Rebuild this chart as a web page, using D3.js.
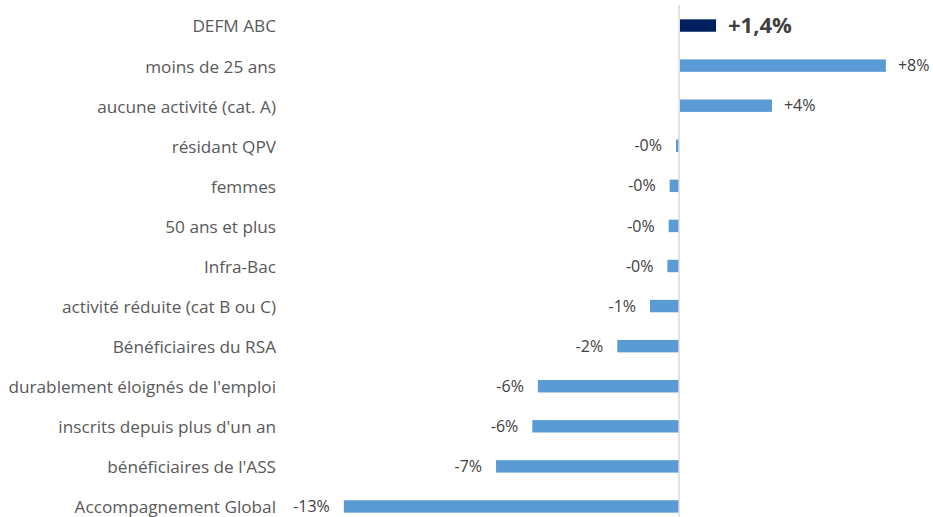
<!DOCTYPE html>
<html>
<head>
<meta charset="utf-8">
<script src="https://cdn.jsdelivr.net/npm/d3@7"></script>
<style>
  body { margin: 0; background: #fff; }
  svg { display: block; font-family: 'Open Sans', sans-serif; }
  .cat text { fill: #595959; font-size: 17.2px; font-family: 'Open Sans', sans-serif; }
  .val { fill: #404040; font-size: 16px; }
</style>
</head>
<body>
<div id="chart"></div>
<script>
// categories, top to bottom
var categories = [
    'DEFM ABC',
    'moins de 25 ans',
    'aucune activité (cat. A)',
    'résidant QPV',
    'femmes',
    '50 ans et plus',
    'Infra-Bac',
    'activité réduite (cat B ou C)',
    'Bénéficiaires du RSA',
    "durablement éloignés de l'emploi",
    "inscrits depuis plus d'un an",
    "bénéficiaires de l'ASS",
    'Accompagnement Global'
];
// evolution in %
var values = [1.43, 8.17, 3.65, -0.12, -0.37, -0.41, -0.46, -1.15, -2.45, -5.6, -5.82, -7.26, -13.3];
var labels = ['+1,4%', '+8%', '+4%', '-0%', '-0%', '-0%', '-0%', '-1%', '-2%', '-6%', '-6%', '-7%', '-13%'];

var width = 933, height = 517;

var svg = d3.select('#chart').append('svg')
    .attr('width', width).attr('height', height);

var x = d3.scaleLinear().domain([-14, 10]).range([326.2, 931]);
var y = d3.scaleBand().domain(categories)
    .range([5.5, 526.5])
    .paddingInner(0.69).paddingOuter(0.345);

var data = categories.map(function(c, i){
    return { cat: c, v: values[i], label: labels[i], main: i == 0 };
});

// bars
svg.selectAll('rect.bar').data(data).enter().append('rect')
    .attr('class', 'bar')
    .attr('x', function(d){ return d.v < 0 ? x(d.v) : x(0) + 1; })
    .attr('width', function(d){ return Math.abs(x(d.v) - x(0)); })
    .attr('y', function(d){ return y(d.cat); })
    .attr('height', y.bandwidth())
    .attr('fill', function(d){ return d.main ? '#002060' : '#5b9bd5'; });

// zero line
svg.append('line')
    .attr('x1', x(0)).attr('x2', x(0))
    .attr('y1', 5).attr('y2', height)
    .attr('stroke', '#d9d9d9').attr('stroke-width', 1.5);

// value labels
svg.selectAll('text.val').data(data).enter().append('text')
    .attr('class', 'val')
    .attr('x', function(d){ return d.v < 0 ? x(d.v) - 14 : x(d.v) + 13; })
    .attr('y', function(d){ return y(d.cat) + y.bandwidth() / 2; })
    .attr('dy', '0.35em')
    .attr('text-anchor', function(d){ return d.v < 0 ? 'end' : 'start'; })
    .style('font-size', function(d){ return d.main ? '22px' : null; })
    .style('font-weight', function(d){ return d.main ? 'bold' : null; })
    .text(function(d){ return d.label; });

// category axis
var catAxis = svg.append('g').attr('class', 'cat')
    .attr('transform', 'translate(276,0)')
    .call(d3.axisLeft(y).tickSize(0).tickPadding(0));
catAxis.select('.domain').remove();
catAxis.selectAll('text').attr('dy', '0.4em');
</script>
</body>
</html>
